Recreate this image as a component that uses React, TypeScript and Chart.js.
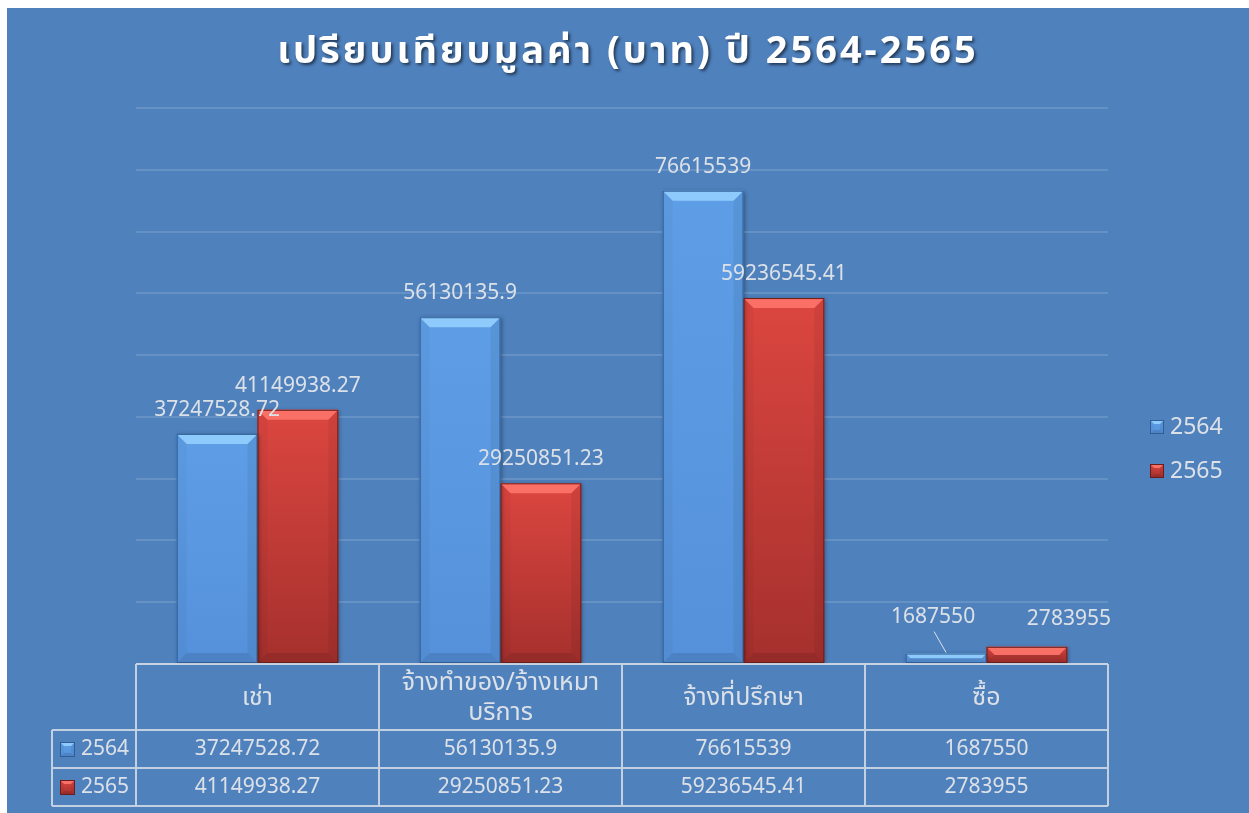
import { useEffect, useRef } from "react";
import { Chart, registerables } from "chart.js";

Chart.register(...registerables);

const TITLE = "เปรียบเทียบมูลค่า (บาท) ปี 2564-2565";
const CATEGORIES: string[][] = [["เช่า"], ["จ้างทำของ/จ้างเหมา", "บริการ"], ["จ้างที่ปรึกษา"], ["ซื้อ"]];
const SERIES_NAMES = ["2564", "2565"];
const VALUES_2564 = [37247528.72, 56130135.9, 76615539, 1687550];
const VALUES_2565 = [41149938.27, 29250851.23, 59236545.41, 2783955];
const Y_MAX = 90000000;
const Y_STEP = 10000000;

const BG = "#4F81BD";
const TEXT = "#DCE1E8";
const FONT = "'Noto Sans', 'Noto Sans Thai', 'DejaVu Sans', sans-serif";

type Pal = { top: string; bottom: string; bevel: string; border: string };
const PALETTES: Pal[] = [
  { top: "#5E9EE6", bottom: "#5591DA", bevel: "rgba(150,210,255,0.85)", border: "#2E5E96" },
  { top: "#DC4640", bottom: "#A5302D", bevel: "rgba(255,120,110,0.85)", border: "#6A1E1B" },
];

// label offsets (dx, dy above bar top) per series/category — layout only
const LABEL_OFFSETS: number[][][] = [
  [[0, 24], [0, 24], [0, 24], [-13, 37]],
  [[0, 24], [0, 24], [0, 24], [42, 28]],
];

function poly(ctx: CanvasRenderingContext2D, pts: number[][], fill: string) {
  ctx.beginPath();
  ctx.moveTo(pts[0][0], pts[0][1]);
  for (let i = 1; i < pts.length; i++) ctx.lineTo(pts[i][0], pts[i][1]);
  ctx.closePath();
  ctx.fillStyle = fill;
  ctx.fill();
}

function bevelOverlay(ctx: CanvasRenderingContext2D, x0: number, y0: number, x1: number, y1: number, pal: Pal, b: number) {
  const w = x1 - x0;
  const h = y1 - y0;
  const bb = Math.max(1, Math.min(b, h / 2, w / 2));
  poly(ctx, [[x0, y0], [x1, y0], [x1 - bb, y0 + bb], [x0 + bb, y0 + bb]], pal.bevel);
  poly(ctx, [[x0, y0], [x0 + bb, y0 + bb], [x0 + bb, y1 - bb], [x0, y1]], "rgba(0,0,0,0.03)");
  poly(ctx, [[x1, y0], [x1 - bb, y0 + bb], [x1 - bb, y1 - bb], [x1, y1]], "rgba(0,0,0,0.06)");
  poly(ctx, [[x0, y1], [x0 + bb, y1 - bb], [x1 - bb, y1 - bb], [x1, y1]], "rgba(0,0,0,0.10)");
  ctx.strokeStyle = pal.border;
  ctx.lineWidth = 1;
  ctx.strokeRect(x0 + 0.5, y0 + 0.5, w - 1, h - 1);
}

function marker(ctx: CanvasRenderingContext2D, x: number, y: number, w: number, h: number, pal: Pal) {
  ctx.save();
  const g = ctx.createLinearGradient(0, y, 0, y + h);
  g.addColorStop(0, pal.top);
  g.addColorStop(1, pal.bottom);
  ctx.fillStyle = g;
  ctx.fillRect(x, y, w, h);
  bevelOverlay(ctx, x, y, x + w, y + h, pal, 4);
  ctx.restore();
}

const decorPlugin = {
  id: "decor",
  beforeDatasetsDraw(chart: any) {
    const ctx = chart.ctx;
    ctx.save();
    ctx.shadowColor = "rgba(0,0,0,0.35)";
    ctx.shadowBlur = 4;
    ctx.shadowOffsetX = 1;
    ctx.shadowOffsetY = 1;
  },
  afterDatasetsDraw(chart: any) {
    const ctx: CanvasRenderingContext2D = chart.ctx;
    ctx.restore();
    ctx.save();
    chart.data.datasets.forEach((_: any, di: number) => {
      const meta = chart.getDatasetMeta(di);
      meta.data.forEach((el: any) => {
        const x0 = el.x - el.width / 2;
        const x1 = el.x + el.width / 2;
        bevelOverlay(ctx, x0, el.y, x1, el.base, PALETTES[di], 10);
      });
    });
    ctx.font = `21px ${FONT}`;
    ctx.fillStyle = TEXT;
    ctx.textAlign = "center";
    ctx.textBaseline = "middle";
    chart.data.datasets.forEach((ds: any, di: number) => {
      const meta = chart.getDatasetMeta(di);
      meta.data.forEach((el: any, i: number) => {
        const [dx, dy] = LABEL_OFFSETS[di][i];
        const lx = el.x + dx;
        const ly = el.y - dy;
        ctx.fillStyle = TEXT;
        ctx.fillText(String(ds.data[i]), lx, ly);
        if (dy > 35) {
          ctx.strokeStyle = TEXT;
          ctx.lineWidth = 1;
          ctx.beginPath();
          ctx.moveTo(lx + 1, ly + 15);
          ctx.lineTo(el.x, el.y - 1);
          ctx.stroke();
        }
      });
    });
    ctx.restore();
  },
  afterDraw(chart: any) {
    const ctx: CanvasRenderingContext2D = chart.ctx;
    const area = chart.chartArea;
    const xs = chart.scales.x;
    const n = chart.data.labels.length;
    const cw = (area.right - area.left) / n;
    const headerH = 66;
    const rowH = 38;
    const top = area.bottom;
    const leftCol = 45;
    ctx.save();
    ctx.font = `bold 38px ${FONT}`;
    (ctx as any).letterSpacing = "3px";
    ctx.textAlign = "center";
    ctx.textBaseline = "middle";
    ctx.shadowColor = "rgba(0,0,0,0.55)";
    ctx.shadowBlur = 3;
    ctx.shadowOffsetX = 2;
    ctx.shadowOffsetY = 2;
    ctx.fillStyle = "#FFFFFF";
    ctx.fillText(TITLE, 621, 44);
    ctx.restore();

    ctx.save();
    ctx.strokeStyle = "rgba(215,222,232,0.85)";
    ctx.lineWidth = 2;
    const bottom = top + headerH + rowH * 2;
    ctx.beginPath();
    ctx.moveTo(area.left, top);
    ctx.lineTo(area.right, top);
    ctx.moveTo(leftCol, top + headerH);
    ctx.lineTo(area.right, top + headerH);
    ctx.moveTo(leftCol, top + headerH + rowH);
    ctx.lineTo(area.right, top + headerH + rowH);
    ctx.moveTo(leftCol, bottom);
    ctx.lineTo(area.right, bottom);
    ctx.moveTo(leftCol, top + headerH);
    ctx.lineTo(leftCol, bottom);
    for (let i = 0; i <= n; i++) {
      const x = i < n ? xs.getPixelForValue(i) - cw / 2 : xs.getPixelForValue(n - 1) + cw / 2;
      ctx.moveTo(x, top);
      ctx.lineTo(x, bottom);
    }
    ctx.stroke();

    ctx.fillStyle = TEXT;
    ctx.textAlign = "center";
    ctx.textBaseline = "middle";
    ctx.font = `25px ${FONT}`;
    CATEGORIES.forEach((lines, i) => {
      const cx = xs.getPixelForValue(i);
      const cy = top + headerH / 2 + 1;
      const lh = 30;
      lines.forEach((ln, k) => {
        ctx.fillText(ln, cx, cy + (k - (lines.length - 1) / 2) * lh);
      });
    });
    ctx.font = `21px ${FONT}`;
    chart.data.datasets.forEach((ds: any, di: number) => {
      const cy = top + headerH + rowH * di + rowH / 2;
      ctx.fillStyle = TEXT;
      ctx.textAlign = "center";
      ds.data.forEach((v: number, i: number) => {
        ctx.fillText(String(v), xs.getPixelForValue(i), cy);
      });
      marker(ctx, leftCol + 8, cy - 7, 15, 15, PALETTES[di]);
      ctx.fillStyle = TEXT;
      ctx.textAlign = "left";
      ctx.fillText(SERIES_NAMES[di], leftCol + 29, cy);
    });

    ctx.font = `23px ${FONT}`;
    ctx.textAlign = "left";
    SERIES_NAMES.forEach((nm, di) => {
      const cy = 419 + di * 44;
      marker(ctx, 1143, cy - 7, 14, 14, PALETTES[di]);
      ctx.fillStyle = TEXT;
      ctx.fillText(nm, 1163, cy);
    });
    ctx.restore();
  },
};

export default function App() {
  const ref = useRef<HTMLCanvasElement | null>(null);
  useEffect(() => {
    if (!ref.current) return;
    const grad = (di: number) => (c: any) => {
      const chart = c.chart;
      if (!chart.chartArea || c.parsed == null) return PALETTES[di].top;
      const ys = chart.scales.y;
      const yTop = ys.getPixelForValue(c.parsed.y);
      const yBot = ys.getPixelForValue(0);
      if (!isFinite(yTop) || yBot - yTop < 1) return PALETTES[di].top;
      const g = chart.ctx.createLinearGradient(0, yTop, 0, yBot);
      g.addColorStop(0, PALETTES[di].top);
      g.addColorStop(1, PALETTES[di].bottom);
      return g;
    };
    const chart = new Chart(ref.current, {
      type: "bar",
      data: {
        labels: CATEGORIES.map((c) => c.join(" ")),
        datasets: [
          { label: SERIES_NAMES[0], data: VALUES_2564, backgroundColor: grad(0), borderWidth: 0, categoryPercentage: 0.665, barPercentage: 1 },
          { label: SERIES_NAMES[1], data: VALUES_2565, backgroundColor: grad(1), borderWidth: 0, categoryPercentage: 0.665, barPercentage: 1 },
        ],
      },
      options: {
        animation: false,
        responsive: false,
        maintainAspectRatio: false,
        layout: { padding: { left: 129, right: 141, top: 100, bottom: 149 } },
        plugins: { legend: { display: false }, title: { display: false }, tooltip: { enabled: false } },
        scales: {
          x: { display: false },
          y: {
            display: true,
            min: 0,
            max: Y_MAX,
            ticks: { display: false, stepSize: Y_STEP },
            border: { display: false },
            grid: { color: "rgba(255,255,255,0.13)", lineWidth: 2, drawTicks: false },
          },
        },
      },
      plugins: [decorPlugin],
    });
    return () => chart.destroy();
  }, []);
  return (
    <div style={{ position: "fixed", left: 7, top: 8, width: 1242, height: 805, background: BG }}>
      <canvas ref={ref} width={1242} height={805} style={{ display: "block" }} />
    </div>
  );
}
